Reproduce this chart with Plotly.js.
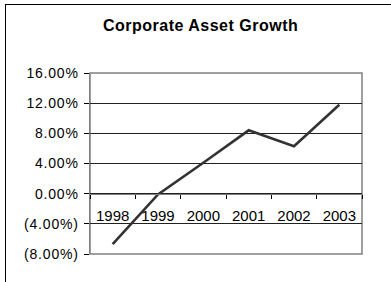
<!DOCTYPE html>
<html>
<head>
<meta charset="utf-8">
<script src="https://cdn.plot.ly/plotly-3.0.1.min.js"></script>
<style>
html,body{margin:0;padding:0;background:#fff;}
#wrap{position:relative;width:391px;height:282px;overflow:hidden;}
#frame{position:absolute;left:5px;top:4px;width:400px;height:300px;border-left:1px solid #000;border-top:1px solid #000;pointer-events:none;z-index:5;}
#chart{position:absolute;left:0;top:0;width:391px;height:282px;}
#chart .ytick text{letter-spacing:0.8px;}
#chart .gtitle{letter-spacing:0.5px;}
</style>
</head>
<body>
<div id="wrap">
<div id="chart"></div>
<div id="frame"></div>
</div>
<script>
const years = ['1998','1999','2000','2001','2002','2003'];
const growth = [-6.7, -0.1, 4.1, 8.4, 6.3, 11.8];
const yTickVals = [-8, -4, 0, 4, 8, 12, 16];
const yTickText = ['(8.00%)','(4.00%)','0.00%','4.00%','8.00%','12.00%','16.00%'];

const trace = {
  x: years, y: growth, type: 'scatter', mode: 'lines',
  line: {color: '#333333', width: 2.6},
  hoverinfo: 'skip'
};

const layout = {
  width: 391, height: 282,
  margin: {l: 90, r: 29, t: 73, b: 28},
  paper_bgcolor: 'rgba(0,0,0,0)', plot_bgcolor: '#ffffff',
  showlegend: false,
  font: {family: 'Liberation Sans, Arial, sans-serif', color: '#000'},
  title: {text: '<b>Corporate Asset Growth</b>', font: {size: 16, family: 'Liberation Sans, Arial, sans-serif', color: '#000'},
          x: 0.513, xanchor: 'center', y: 0.91, yanchor: 'middle'},
  xaxis: {
    type: 'category', range: [-0.5, 5.5],
    anchor: 'free', position: 1/3,
    showline: true, linecolor: '#808080', linewidth: 1.5,
    showgrid: false, zeroline: false,
    ticks: 'outside', ticklen: 4, tickcolor: '#000', tickwidth: 1,
    tickson: 'boundaries', ticklabelstandoff: 8,
    tickfont: {size: 15, family: 'Liberation Sans, Arial, sans-serif'}
  },
  yaxis: {
    range: [-8, 16], tickvals: yTickVals, ticktext: yTickText,
    showline: true, linecolor: '#808080', linewidth: 1.5,
    showgrid: true, gridcolor: '#222222', gridwidth: 1,
    zeroline: false,
    ticks: 'outside', ticklen: 5, tickcolor: '#000', tickwidth: 1,
    ticklabelstandoff: 2,
    tickfont: {size: 14, family: 'Liberation Sans, Arial, sans-serif'}
  },
  shapes: [{type: 'rect', xref: 'paper', yref: 'paper', x0: 0, x1: 1, y0: 0, y1: 1,
            line: {color: '#808080', width: 1.5}, layer: 'below'}]
};

Plotly.newPlot('chart', [trace], layout, {staticPlot: true, displayModeBar: false});
</script>
</body>
</html>
